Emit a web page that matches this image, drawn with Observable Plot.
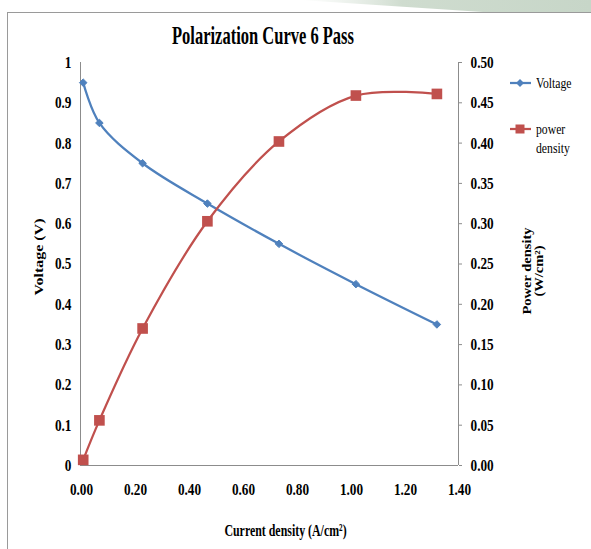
<!DOCTYPE html>
<html><head><meta charset="utf-8">
<script src="https://cdn.jsdelivr.net/npm/d3@7"></script>
<script src="https://cdn.jsdelivr.net/npm/@observablehq/plot@0.6"></script>
<style>
html,body{margin:0;padding:0;background:#fff}
body{width:591px;height:549px;overflow:hidden;position:relative;font-family:"Liberation Serif","Times New Roman",serif}
#deco{position:absolute;left:0;top:0}
#frame{position:absolute;left:7px;top:12px;width:640px;height:640px;border-top:1px solid #9a9a9a;border-left:1px solid #9a9a9a}
#title{position:absolute;left:0;top:22px;width:526px;text-align:center;font-weight:bold;font-size:25px;line-height:28px;transform:scaleX(0.66);white-space:nowrap}
#chart{position:absolute;left:0;top:0}
.leg{position:absolute;font-size:15px;line-height:19px;color:#000}
.leg svg{position:absolute;left:0;top:0}
.leg .lab{position:absolute;left:27px;top:0;transform:scaleX(0.78);transform-origin:0 0;white-space:nowrap}
</style></head>
<body>
<svg id="deco" width="591" height="12">
  <defs><linearGradient id="g" x1="0" x2="1"><stop offset="0" stop-color="#dfe8df" stop-opacity="0"/><stop offset="0.35" stop-color="#cfdccf"/><stop offset="1" stop-color="#c7d6c8"/></linearGradient></defs>
  <polygon points="300,0 591,0 591,12 483,12" fill="url(#g)"/>
</svg>
<div id="frame"></div>
<div id="title">Polarization Curve 6 Pass</div>
<div id="chart"></div>
<div id="legend"></div>
<script>
// ---- data ----
const current = [0.01, 0.07, 0.23, 0.47, 0.735, 1.02, 1.32];
const voltage = [0.95, 0.85, 0.75, 0.65, 0.55, 0.45, 0.35];
const power   = [0.007, 0.056, 0.17, 0.303, 0.402, 0.459, 0.461];
const xTicks = [0, 0.2, 0.4, 0.6, 0.8, 1.0, 1.2, 1.4];
const voltTicks = [0, 0.1, 0.2, 0.3, 0.4, 0.5, 0.6, 0.7, 0.8, 0.9, 1];
const powerTicks = [0, 0.05, 0.10, 0.15, 0.20, 0.25, 0.30, 0.35, 0.40, 0.45, 0.50];
const seriesNames = ["Voltage", "power density"];
const colors = {Voltage: "#4F81BD", power: "#C0504D"};

const voltMax = 1, powerMax = 0.5;
const k = voltMax / powerMax; // power -> left-axis units

const vData = current.map((c, i) => ({c, v: voltage[i]}));
const pData = current.map((c, i) => ({c, p: power[i]}));
const axisGray = "#8c8c8c";
const serif = '"Liberation Serif","Times New Roman",serif';

const chart = Plot.plot({
  width: 591, height: 549,
  marginTop: 62, marginBottom: 84, marginLeft: 80, marginRight: 133,
  style: {fontFamily: serif, fontSize: "13px", fontWeight: "bold", color: "#000", background: "transparent"},
  x: {domain: [0, 1.4]},
  y: {domain: [0, voltMax]},
  marks: [
    Plot.ruleX([0], {stroke: axisGray}),
    Plot.ruleX([1.4], {stroke: axisGray}),
    Plot.ruleY([0], {stroke: axisGray}),
    Plot.axisX(xTicks, {tickSize: 0, tickPadding: 17, fontSize: 17, fontWeight: "bold", tickFormat: d => d.toFixed(2), label: null, dx: 1}),
    Plot.axisY(voltTicks, {anchor: "left", tickSize: 0, tickPadding: 9, fontSize: 17, fontWeight: "bold", tickFormat: d => String(+d.toFixed(1)), label: null}),
    Plot.axisY(powerTicks.map(p => p * k), {anchor: "right", tickSize: 3, tickPadding: 9, fontSize: 17, fontWeight: "bold", stroke: axisGray, tickFormat: d => (d / k).toFixed(2), label: null}),
    Plot.line(vData, {x: "c", y: "v", stroke: colors.Voltage, strokeWidth: 2.25, curve: "catmull-rom"}),
    Plot.line(pData, {x: "c", y: d => d.p * k, stroke: colors.power, strokeWidth: 2.25, curve: "catmull-rom"}),
    Plot.dot(vData, {x: "c", y: "v", symbol: "diamond2", r: 3.4, fill: colors.Voltage, stroke: colors.Voltage, strokeWidth: 1}),
    Plot.dot(pData, {x: "c", y: d => d.p * k, symbol: "square", r: 6, fill: colors.power}),
    Plot.text(["Current density (A/cm²)"], {frameAnchor: "bottom", textAnchor: "middle", dx: 16, dy: 65, fontSize: 17, fontWeight: "bold", lineAnchor: "middle"}),
    Plot.text(["Voltage (V)"], {frameAnchor: "left", textAnchor: "middle", dx: -42, dy: -7, rotate: -90, fontSize: 16, fontWeight: "bold", lineAnchor: "middle"}),
    Plot.text(["Power density\n(W/cm²)"], {frameAnchor: "right", textAnchor: "middle", dx: 75, dy: 7, rotate: -90, fontSize: 14.5, fontWeight: "bold", lineAnchor: "middle", lineHeight: 1.0})
  ]
});
document.getElementById("chart").appendChild(chart);

// The reference picture is horizontally condensed: squeeze glyphs about their anchor.
// Numeric x/y offsets are folded into the transform; em-based offsets are kept as they are.
function squeeze(sel, sx, sy) {
  sel.each(function () {
    let tr = this.getAttribute("transform") || "";
    let tx = 0, ty = 0;
    for (const a of ["x", "y"]) {
      const v = this.getAttribute(a);
      if (v != null && /^-?[\d.]+$/.test(v)) {
        if (a === "x") tx = +v; else ty = +v;
        this.removeAttribute(a);
      }
    }
    if (tx || ty) tr += ` translate(${tx},${ty})`;
    this.setAttribute("transform", `${tr} scale(${sx},${sy})`);
  });
}
const svg = d3.select(chart);
squeeze(svg.selectAll('g[aria-label$="tick label"] text'), 0.78, 1);
svg.selectAll('g[aria-label="text"] text').each(function () {
  const rotated = (this.getAttribute("transform") || "").includes("rotate");
  squeeze(d3.select(this), rotated ? 1 : 0.7, rotated ? 0.8 : 1);
});

// ---- legend ----
const legend = document.getElementById("legend");
function legItem(top, color, sym, label) {
  const d = document.createElement("div");
  d.className = "leg";
  d.style.left = "509px"; d.style.top = (top - 9) + "px";
  d.style.width = "80px"; d.style.height = "40px";
  const icon = sym === "diamond"
    ? `<polygon points="11,5 15,9 11,13 7,9" fill="${color}"/>`
    : `<rect x="6.5" y="4.5" width="9" height="9" fill="${color}"/>`;
  d.innerHTML = `<svg width="24" height="18"><line x1="1" x2="22" y1="9" y2="9" stroke="${color}" stroke-width="2.25"/>${icon}</svg><div class="lab">${label}</div>`;
  legend.appendChild(d);
}
legItem(83, colors.Voltage, "diamond", seriesNames[0]);
legItem(129, colors.power, "square", seriesNames[1].replace(" ", "<br>"));
</script>
</body></html>
